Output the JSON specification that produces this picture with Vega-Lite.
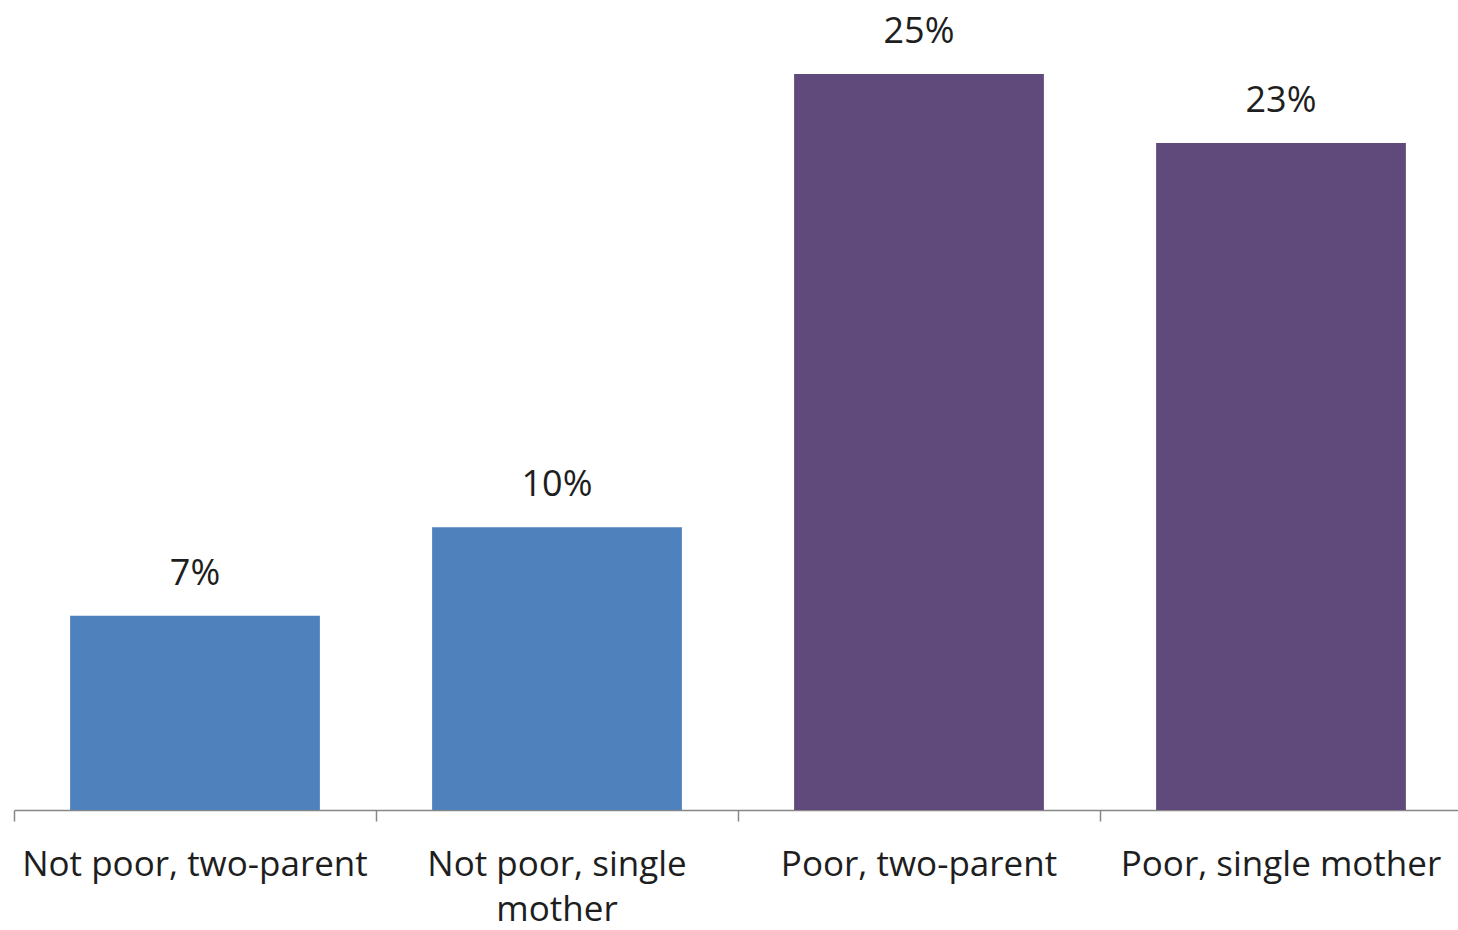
{
  "$schema": "https://vega.github.io/schema/vega-lite/v6.json",
  "autosize": {"type": "none"},
  "padding": {"left": 14, "top": 15, "right": 0, "bottom": 120},
  "width": 1448,
  "height": 795,
  "background": "white",
  "config": {"view": {"stroke": null}},
  "data": {
    "values": [
      {"category": "Not poor, two-parent", "group": "Not poor", "value": 0.066},
      {"category": "Not poor, single mother", "group": "Not poor", "value": 0.096},
      {"category": "Poor, two-parent", "group": "Poor", "value": 0.25},
      {"category": "Poor, single mother", "group": "Poor", "value": 0.2265}
    ]
  },
  "encoding": {
    "x": {
      "field": "category",
      "type": "nominal",
      "sort": null,
      "scale": {"paddingInner": 0, "paddingOuter": 0},
      "axis": {
        "title": null,
        "labelAngle": 0,
        "bandPosition": 0,
        "domainColor": "#878787",
        "domainWidth": 1.5,
        "tickColor": "#878787",
        "tickWidth": 1.5,
        "tickSize": 11,
        "ticks": true,
        "labelFont": "Open Sans",
        "labelFontSize": 35,
        "labelColor": "#1e1e1e",
        "labelPadding": 26,
        "labelLineHeight": 45,
        "labelLimit": 0,
        "labelAlign": "center",
        "labelExpr": "datum.label == 'Not poor, single mother' ? ['Not poor, single', 'mother'] : datum.label"
      }
    },
    "y": {
      "field": "value",
      "type": "quantitative",
      "scale": {"domain": [0, 0.27], "nice": false},
      "axis": null
    }
  },
  "layer": [
    {
      "mark": {"type": "bar", "width": {"band": 0.69}},
      "encoding": {
        "color": {
          "field": "group",
          "type": "nominal",
          "scale": {"domain": ["Not poor", "Poor"], "range": ["#4F81BD", "#604A7B"]},
          "legend": null
        }
      }
    },
    {
      "mark": {"type": "text", "baseline": "alphabetic", "dy": -31, "font": "Open Sans", "fontSize": 36, "color": "#1e1e1e"},
      "encoding": {
        "text": {"field": "value", "type": "quantitative", "format": ".0%"}
      }
    }
  ]
}
